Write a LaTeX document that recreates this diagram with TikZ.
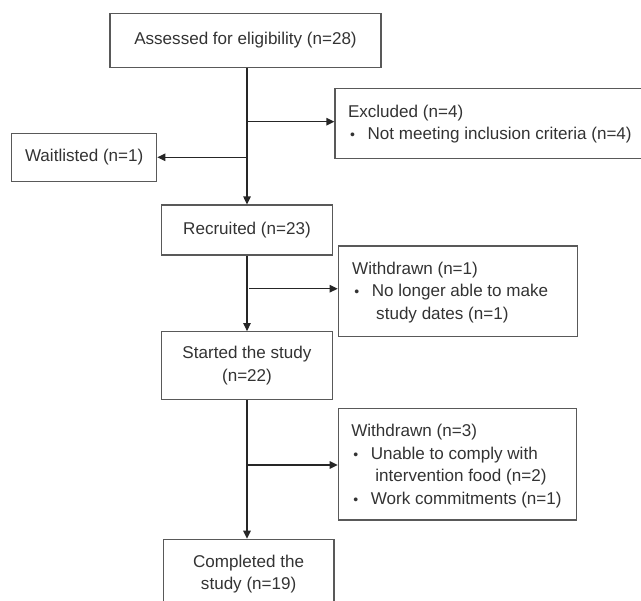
\documentclass[tikz,border=0pt]{standalone}
\usepackage{fontspec}
\setmainfont{Liberation Sans}
\usetikzlibrary{arrows.meta}
\newcommand{\mybul}{\hspace*{3.4pt}\makebox[0pt][c]{\fontsize{10.5}{10}\selectfont •}\hspace*{11.25pt}}
\newcommand{\myind}{\hspace*{18pt}}
\tikzset{
  box/.style={draw=black!65, line width=0.9pt, rectangle, inner sep=0pt, text=black!80,
    font=\fontsize{12.8pt}{17pt}\selectfont, align=center},
  boxtext/.style={anchor=west, inner sep=0pt, text=black!80, align=left,
    font=\fontsize{12.8pt}{17pt}\selectfont},
  arr/.style={draw=black!85, line width=0.95pt, -{Triangle[length=6pt,width=5.6pt]}}
}
\begin{document}
\begin{tikzpicture}[x=0.75pt,y=-0.75pt]
\useasboundingbox (0,0) rectangle (641,600);
\clip (0,0) rectangle (641,600);
% boxes
\node[box, minimum width=271*0.75pt, minimum height=54.4*0.75pt] (assess) at (245.5,40.5) {Assessed for eligibility (n=28)};
\node[box, minimum width=311*0.75pt, minimum height=70*0.75pt] (excl) at (490.5,123.3) {};
\node[box, minimum width=145*0.75pt, minimum height=48.4*0.75pt] (wait) at (84.2,157.5) {Waitlisted (n=1)};
\node[box, minimum width=170.6*0.75pt, minimum height=50*0.75pt] (recr) at (247,230) {Recruited (n=23)};
\node[box, minimum width=239.4*0.75pt, minimum height=90.7*0.75pt] (wd1) at (458,291.35) {};
\node[box, minimum width=170.6*0.75pt, minimum height=67.6*0.75pt] (start) at (247,365.5) {Started the study\\(n=22)};
\node[box, minimum width=238.4*0.75pt, minimum height=111.7*0.75pt] (wd3) at (457.5,464.15) {};
\node[box, minimum width=170.7*0.75pt, minimum height=69.7*0.75pt] (comp) at (248.65,574.15) {Completed the\\study (n=19)};
% texts of the left-aligned boxes
\node[boxtext] (excltxt) at ([xshift=10pt,yshift=-0.5pt]excl.west) {Excluded (n=4)\\\mybul Not meeting inclusion criteria (n=4)};
\node[boxtext] (wd1txt) at ([xshift=10.7pt,yshift=-0.7pt]wd1.west) {Withdrawn (n=1)\\\mybul No longer able to make\\\myind study dates (n=1)};
\node[boxtext] (wd3txt) at ([xshift=10pt,yshift=-1.5pt]wd3.west) {Withdrawn (n=3)\\\mybul Unable to comply with\\\myind intervention food (n=2)\\\mybul Work commitments (n=1)};
% branch points
\coordinate (b1) at (247,121.7);
\coordinate (b2) at (247,157.3);
\coordinate (b3) at (249,288.7);
\coordinate (b4) at (247,465);
% connectors
\draw[arr] (recr.north |- assess.south) -- (recr.north);
\draw[arr] (b1) -- (b1 -| excl.west);
\draw[arr] (b2) -- (b2 -| wait.east);
\draw[arr] (recr.south) -- (start.north);
\draw[arr] (b3) -- (b3 -| wd1.west);
\draw[arr] (start.south) -- (start.south |- comp.north);
\draw[arr] (b4) -- (b4 -| wd3.west);
\end{tikzpicture}
\end{document}
